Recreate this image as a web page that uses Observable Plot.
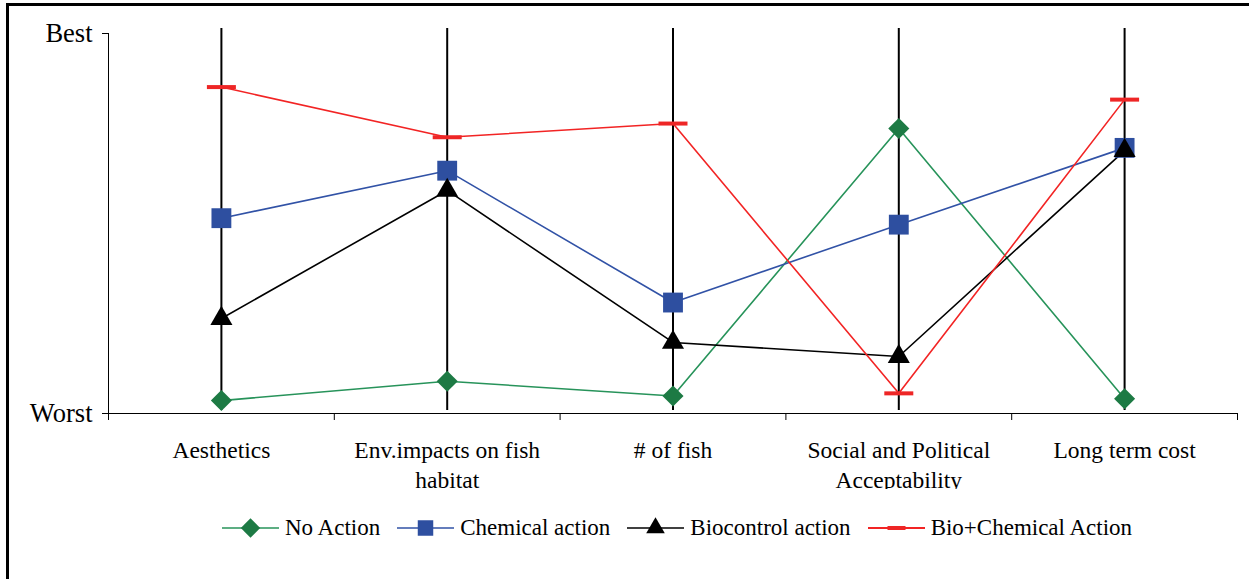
<!DOCTYPE html>
<html><head><meta charset="utf-8">
<script src="https://cdn.jsdelivr.net/npm/d3@7"></script>
<script src="https://cdn.jsdelivr.net/npm/@observablehq/plot@0.6"></script>
<style>
body{margin:0;background:#fff;font-family:"Liberation Serif","Times New Roman",serif;}
#wrap{position:relative;width:1249px;height:579px;overflow:hidden;background:#fff;}
#chart{position:absolute;left:0;top:0;}
.frame-top{position:absolute;left:6px;top:3px;width:1243px;height:3px;background:#000}
.frame-left{position:absolute;left:6px;top:3px;width:3px;height:576px;background:#000}
#legend{position:absolute;left:222px;top:513px;display:flex;align-items:center;font-size:23px;color:#000;height:30px;white-space:nowrap}
.item{display:flex;align-items:center;margin-right:17px}
.item svg{margin-right:6px;display:block}
</style></head><body>
<div id="wrap"><div id="chart"></div><div id="legend"></div><div class="frame-top"></div><div class="frame-left"></div></div>
<script>
// ---- data ----
const categories = ["Aesthetics","Env.impacts on fish habitat","# of fish","Social and Political Acceptability","Long term cost"];
const tickLabels = ["Aesthetics","Env.impacts on fish\nhabitat","# of fish","Social and Political\nAcceptability","Long term cost"];
const seriesNames = ["No Action","Chemical action","Biocontrol action","Bio+Chemical Action"];
const noAction    = [3.4, 8.5, 4.6, 75.0, 3.9];
const chemical    = [51.4, 63.9, 29.2, 49.7, 69.9];
const biocontrol  = [25.0, 58.7, 18.7, 15.0, 69.2];
const bioChemical = [85.9, 72.7, 76.3, 5.3, 82.6];
const rangeLow  = [0.8, 0.8, 0.8, 0.8, 0.8];
const rangeHigh = [101.3, 101.3, 101.3, 101.3, 101.3];
const yTickValues = [0, 100];
const yTickLabels = ["Worst", "Best"];

// ---- styles ----
const seriesValues = [noAction, chemical, biocontrol, bioChemical];
const lineColors = ["#27935a", "#3152a6", "#000000", "#f22424"];
const markColors = ["#1d7a44", "#2e4fa0", "#000000", "#ee2626"];
const dashSymbol = {draw(ctx){ctx.moveTo(-14.5,-2);ctx.lineTo(14.5,-2);ctx.lineTo(14.5,2);ctx.lineTo(-14.5,2);ctx.closePath();}};
const symbols = ["diamond2", "square", "triangle", dashSymbol];
const radii = [9.5, 11.2, 8.2, 5];

const rows = [];
seriesNames.forEach((s, k) => categories.forEach((c, i) => rows.push({series: s, k, idx: i + 0.5, value: seriesValues[k][i]})));
const cats = categories.map((c, i) => ({c, idx: i + 0.5, lo: rangeLow[i], hi: rangeHigh[i]}));
const font = '"Liberation Serif","Times New Roman",serif';

const marks = [
  Plot.ruleY([0], {stroke: "#000", strokeWidth: 1}),
  Plot.ruleX([0], {y1: 0, y2: 100, stroke: "#000", strokeWidth: 1}),
  Plot.axisX({ticks: d3.range(categories.length + 1), tickSize: 7, tickFormat: () => "", strokeWidth: 1, label: null}),
  Plot.axisX({ticks: cats.map(d => d.idx), tickFormat: v => tickLabels[Math.floor(v)], tickSize: 0, tickPadding: 24, fontSize: 23.5, lineHeight: 1.25, fill: "#000", label: null}),
  Plot.axisY({ticks: yTickValues, tickFormat: v => yTickLabels[yTickValues.indexOf(v)], tickSize: 6, tickPadding: 10, fontSize: 26.5, fill: "#000", label: null}),
  Plot.ruleX(cats, {x: "idx", y1: "lo", y2: "hi", stroke: "#000", strokeWidth: 2})
];
seriesNames.forEach((s, k) => {
  const d = rows.filter(r => r.k === k);
  marks.push(Plot.line(d, {x: "idx", y: "value", stroke: lineColors[k], strokeWidth: 1.6}));
});
seriesNames.forEach((s, k) => {
  const d = rows.filter(r => r.k === k);
  marks.push(Plot.dot(d, {x: "idx", y: "value", symbol: () => symbols[k], r: radii[k], fill: markColors[k], stroke: "none"}));
});

const chart = Plot.plot({
  width: 1249, height: 489,
  marginLeft: 108, marginRight: 12, marginTop: 33, marginBottom: 76,
  x: {type: "linear", domain: [0, categories.length], axis: null},
  y: {domain: [0, 100], axis: null},
  symbol: {type: "identity"},
  style: {fontFamily: font, fontSize: "23px", background: "transparent", color: "#000", overflow: "hidden"},
  marks
});
document.getElementById("chart").appendChild(chart);

// ---- legend ----
const legend = d3.select("#legend");
const legendSym = [d3.symbolDiamond2, d3.symbolSquare, d3.symbolTriangle, null];
const legendSize = [240, 240, 150, 0];
seriesNames.forEach((s, k) => {
  const item = legend.append("div").attr("class", "item");
  const svg = item.append("svg").attr("width", 57).attr("height", 24);
  svg.append("line").attr("x1", 0).attr("x2", 57).attr("y1", 12).attr("y2", 12).attr("stroke", lineColors[k]).attr("stroke-width", k === 3 ? 2 : 1.6);
  if (legendSym[k]) {
    svg.append("path").attr("d", d3.symbol(legendSym[k], legendSize[k])()).attr("transform", "translate(28.5,12)").attr("fill", markColors[k]);
  } else {
    svg.append("rect").attr("x", 19.5).attr("y", 10).attr("width", 18).attr("height", 4).attr("fill", markColors[k]);
  }
  item.append("span").text(s);
});
</script>
</body></html>
